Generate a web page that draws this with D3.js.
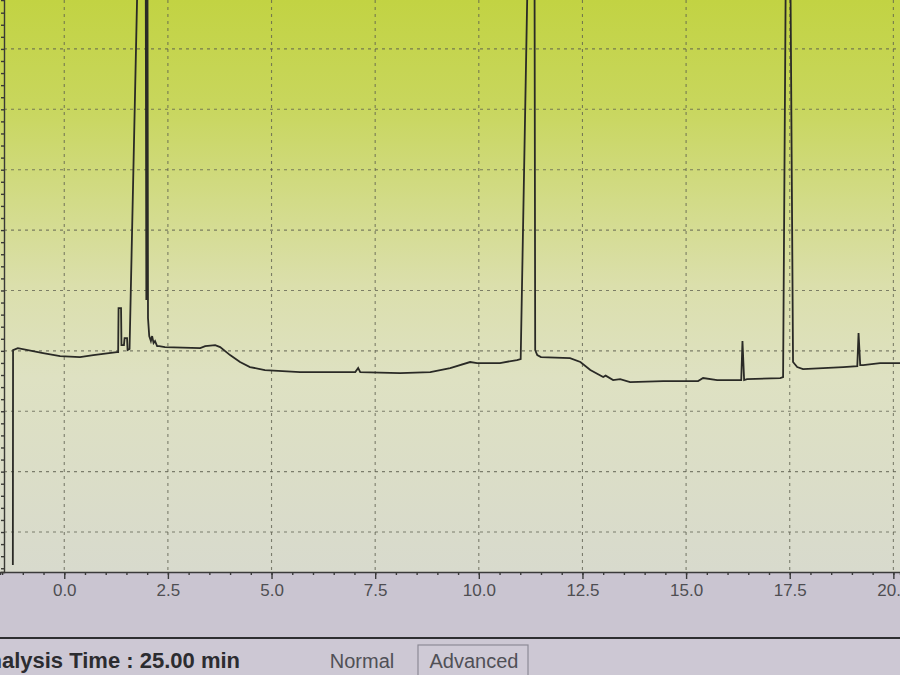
<html>
<script src='https://d3js.org/d3.v7.min.js'></script>
<style>
body {margin:0; background:#cac5d0; font-family:"Liberation Sans", Arial, sans-serif; overflow:hidden;}
.grid line {stroke:#5c5d4e; stroke-dasharray:3,4; stroke-width:1.1; opacity:0.75;}
.xaxis path, .xaxis line {stroke:#3a3a3a; stroke-width:1.4;}
.yaxis path, .yaxis line {stroke:#3a3a36; stroke-width:1.4;}
.xaxis text {fill:#4e4e52; font-size:17px; font-family:"Liberation Sans", Arial, sans-serif;}
</style>
<body>
<svg width=900 height=675></svg>
<script>

// chromatogram trace (time in min, signal in mV)
var times = [-1.24, -1.235, -1.12, -0.51, -0.10, 0.38, 0.70, 1.27, 1.30, 1.31, 1.37, 1.38, 1.44, 1.455, 1.515, 1.527, 1.575,
  1.95, 1.98, 1.995, 2.02, 2.05, 2.09, 2.12, 2.155, 2.19, 2.24, 2.29, 2.43,
  3.28, 3.40, 3.64, 3.76, 4.00, 4.24, 4.48, 4.84, 5.69, 7.02, 7.09, 7.14, 8.10, 8.83, 9.31, 9.79, 9.96, 10.51, 10.92, 11.01,
  11.33, 11.36, 11.41, 11.50, 12.20, 12.45, 12.69, 13.00, 13.06, 13.24, 13.41, 13.65, 14.45, 15.29, 15.41, 15.75, 16.23,
  16.33, 16.36, 16.40, 16.47, 17.27, 17.34, 17.46, 17.58, 17.68, 17.82, 18.79, 19.13, 19.16, 19.20, 19.27, 19.68, 20.16];
var signal = [-5.46, 30.13, 30.46, 29.64, 29.14, 28.97, 29.30, 29.80, 29.80, 37.09, 37.09, 30.96, 30.96, 32.12, 32.12, 30.13, 30.30,
  150, 38.41, 150, 35.43, 32.45, 31.62, 32.45, 31.29, 31.62, 30.79, 30.79, 30.63,
  30.46, 30.79, 30.96, 30.63, 29.30, 28.15, 27.32, 26.82, 26.49, 26.49, 27.15, 26.49, 26.32, 26.49, 27.15, 28.15, 27.98, 27.98, 28.48, 28.64,
  150, 30.13, 29.30, 28.97, 28.81, 28.15, 26.82, 25.66, 25.90, 25.17, 25.33, 24.83, 25.00, 25.00, 25.50, 25.17, 25.17,
  25.17, 31.62, 25.17, 25.33, 25.50, 25.66, 150, 28.15, 27.32, 26.99, 27.32, 27.48, 32.95, 27.65, 27.65, 27.98, 27.98];

var xTickValues = [0.0, 2.5, 5.0, 7.5, 10.0, 12.5, 15.0, 17.5, 20.0];
var yGridValues = [0, 10, 20, 30, 40, 50, 60, 70, 80];
var statusText = "Analysis Time : 25.00 min";
var modeLabels = ["Normal", "Advanced"];

var W = 900, H = 675;
var axisY = 572, sepY = 638;

var xscale = d3.scaleLinear().domain([-1.55, 20.16]).range([0, W]);
var yscale = d3.scaleLinear().domain([-6.62, 88.1]).range([axisY, 0]);

var svg = d3.select("svg");

// plot background, lime at the top fading to grey
var grad = svg.append("defs").append("linearGradient")
  .attr("id", "bg").attr("x1", 0).attr("y1", 0).attr("x2", 0).attr("y2", 1);
grad.append("stop").attr("offset", "0%").attr("stop-color", "#c2d343");
grad.append("stop").attr("offset", "18%").attr("stop-color", "#c8d65c");
grad.append("stop").attr("offset", "35%").attr("stop-color", "#d2db87");
grad.append("stop").attr("offset", "50%").attr("stop-color", "#dbdfac");
grad.append("stop").attr("offset", "66%").attr("stop-color", "#dee1c2");
grad.append("stop").attr("offset", "100%").attr("stop-color", "#d8dacd");

svg.select("defs").append("clipPath").attr("id", "plotclip")
  .append("rect").attr("x", 4).attr("y", 0).attr("width", W - 4).attr("height", axisY);

svg.append("rect")
  .attr("x", 0).attr("y", 0).attr("width", W).attr("height", axisY)
  .attr("fill", "url(#bg)");

// bands under the axis
svg.append("rect").attr("x", 0).attr("y", axisY).attr("width", W).attr("height", sepY - axisY).attr("fill", "#cac5d1");
svg.append("rect").attr("x", 0).attr("y", sepY).attr("width", W).attr("height", H - sepY).attr("fill", "#cdc8d4");

// grid
var grid = svg.append("g").attr("class", "grid").attr("clip-path", "url(#plotclip)");
grid.selectAll(".vg").data(xTickValues).enter().append("line")
  .attr("class", "vg")
  .attr("x1", function(d) { return xscale(d); })
  .attr("x2", function(d) { return xscale(d); })
  .attr("y1", 0).attr("y2", axisY);
grid.selectAll(".hg").data(yGridValues).enter().append("line")
  .attr("class", "hg")
  .attr("x1", 4).attr("x2", W)
  .attr("y1", function(d) { return yscale(d); })
  .attr("y2", function(d) { return yscale(d); });

// trace
var line = d3.line()
  .x(function(d, i) { return xscale(times[i]); })
  .y(function(d) { return yscale(d); });

svg.append("path")
  .datum(signal)
  .attr("clip-path", "url(#plotclip)")
  .attr("fill", "none")
  .attr("stroke", "#2a2a26")
  .attr("stroke-width", 1.8)
  .attr("stroke-linejoin", "miter")
  .attr("d", line);

// x axis: minor every 0.5, labelled every 2.5
var minor = d3.range(-1.5, 20.2, 0.5);
svg.append("g").attr("class", "xaxis")
  .attr("transform", "translate(0," + axisY + ")")
  .call(d3.axisBottom(xscale).tickValues(minor).tickSize(3).tickFormat(""));
svg.append("g").attr("class", "xaxis")
  .attr("transform", "translate(0," + axisY + ")")
  .call(d3.axisBottom(xscale).tickValues(xTickValues).tickSize(7).tickPadding(5).tickFormat(d3.format(".1f")))
  .call(function(g) { g.select(".domain").remove(); });

// y axis on the left edge
svg.append("g").attr("class", "yaxis")
  .attr("transform", "translate(4,0)")
  .call(d3.axisLeft(yscale).tickValues(d3.range(-6, 88, 2)).tickSize(3).tickFormat(""));

// separator and status line
svg.append("line").attr("x1", 0).attr("x2", W).attr("y1", sepY).attr("y2", sepY)
  .attr("stroke", "#2e2e30").attr("stroke-width", 2);

svg.append("text")
  .attr("x", 240).attr("y", 668)
  .attr("text-anchor", "end")
  .attr("font-size", 22).attr("font-weight", "bold")
  .attr("fill", "#2c2c30")
  .text(statusText);

svg.append("rect")
  .attr("x", 418).attr("y", 645).attr("width", 110).attr("height", 40)
  .attr("fill", "#cfcad6").attr("stroke", "#8d8a96").attr("stroke-width", 1.2);

svg.append("text")
  .attr("x", 362).attr("y", 668).attr("text-anchor", "middle")
  .attr("font-size", 20).attr("fill", "#505056")
  .text(modeLabels[0]);
svg.append("text")
  .attr("x", 474).attr("y", 668).attr("text-anchor", "middle")
  .attr("font-size", 20).attr("fill", "#505056")
  .text(modeLabels[1]);

</script>
</body>
</html>
